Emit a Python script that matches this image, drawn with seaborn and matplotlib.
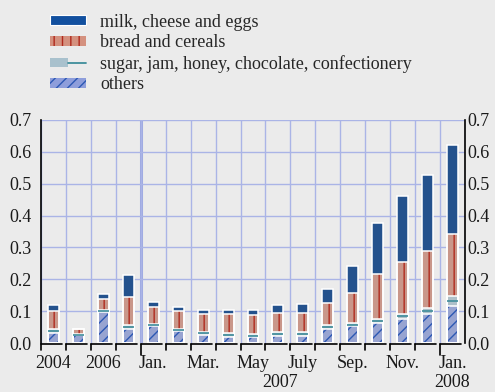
import numpy as np
import pandas as pd
import seaborn as sns
import matplotlib.pyplot as plt
from matplotlib.patches import Patch
from matplotlib.lines import Line2D
from matplotlib.legend_handler import HandlerTuple
import matplotlib.transforms as mtransforms

# values per period (contribution, percentage points)
periods = ["2004", "2005", "2006", "2007a", "Jan", "Feb", "Mar", "Apr", "May", "Jun",
           "Jul", "Aug", "Sep", "Oct", "Nov", "Dec", "Jan08"]
others = [0.030, 0.025, 0.097, 0.044, 0.052, 0.038, 0.025, 0.020, 0.018, 0.023,
          0.022, 0.044, 0.052, 0.062, 0.076, 0.092, 0.116]
sugar = [0.015, 0.003, 0.006, 0.012, 0.008, 0.006, 0.010, 0.010, 0.010, 0.011,
         0.011, 0.011, 0.010, 0.014, 0.016, 0.019, 0.030]
bread = [0.057, 0.017, 0.036, 0.088, 0.053, 0.056, 0.057, 0.062, 0.061, 0.061,
         0.061, 0.070, 0.096, 0.140, 0.162, 0.178, 0.197]
milk = [0.016, 0.000, 0.016, 0.071, 0.015, 0.013, 0.012, 0.012, 0.016, 0.023,
        0.028, 0.046, 0.083, 0.160, 0.208, 0.239, 0.280]

tick_pos = [0, 2, 4, 6, 8, 10, 12, 14, 16]
tick_labels = ["2004", "2006", "Jan.", "Mar.", "May", "July", "Sep.", "Nov.", "Jan."]
year_labels = ["2007", "2008"]
year_pos = [9.1, 16]

labels = ["milk, cheese and eggs", "bread and cereals",
          "sugar, jam, honey, chocolate, confectionery", "others"]

df = pd.DataFrame({"pos": np.arange(len(periods)), "others": others,
                   "sugar": sugar, "bread": bread, "milk": milk})
df["c1"] = df["others"]
df["c2"] = df["c1"] + df["sugar"]
df["c3"] = df["c2"] + df["bread"]
df["c4"] = df["c3"] + df["milk"]

bg = "#ebebeb"
grid_c = "#aab4e6"
milk_c = "#12509f"
bread_c, bread_h = "#d4917f", "#b02a1e"
sugar_c, sugar_h = "#a9c1cd", "#3f8d9b"
oth_c, oth_h = "#8e9edb", "#2c58b4"

sns.set_theme(style="white")
plt.rcParams["font.family"] = ["Liberation Serif", "DejaVu Serif"]
plt.rcParams["hatch.linewidth"] = 1.0

fig = plt.figure(figsize=(4.95, 3.92), dpi=100, facecolor=bg)
ax = fig.add_axes([41 / 495, 49 / 392, 424 / 495, 223 / 392])
ax.set_facecolor(bg)
ax.set_axisbelow(True)

w = 0.44
# stacked via cumulative totals, drawn from the top layer down
sns.barplot(data=df, x="pos", y="c4", color=milk_c, width=w, errorbar=None,
            edgecolor=milk_c, linewidth=0, ax=ax)
sns.barplot(data=df, x="pos", y="c3", color=bread_c, width=w, errorbar=None,
            edgecolor=bread_h, linewidth=0, hatch="||", ax=ax)
sns.barplot(data=df, x="pos", y="c2", color=sugar_c, width=w, errorbar=None,
            edgecolor=sugar_c, linewidth=0, ax=ax)
sns.barplot(data=df, x="pos", y="c1", color=oth_c, width=w, errorbar=None,
            edgecolor=oth_h, linewidth=0, hatch="///", ax=ax)
ax.hlines(df["c1"] + df["sugar"] / 2, df["pos"] - w / 2, df["pos"] + w / 2,
          color=sugar_h, lw=1.2, zorder=3)
for col in ["c4", "c3", "c2", "c1"]:
    sns.barplot(data=df, x="pos", y=col, color="white", width=w, errorbar=None,
                fill=False, linewidth=1.1, ax=ax)

n = len(periods)
ax.set_xlim(-0.5, n - 0.5)
ax.set_ylim(0, 0.7)
ax.set_yticks(np.arange(0, 0.71, 0.1))
ax.set_yticklabels([f"{v:.1f}" for v in np.arange(0, 0.71, 0.1)])
ax.set_xticks(np.arange(-0.5, n, 1), minor=True)
ax.set_xticks(tick_pos)
ax.set_xticklabels(tick_labels)
ax.set_xlabel("")
ax.set_ylabel("")
ax.grid(which="minor", axis="x", color=grid_c, lw=1.0)
ax.grid(which="major", axis="y", color=grid_c, lw=1.0)
ax.grid(which="major", axis="x", visible=False)
ax.yaxis.get_gridlines()[0].set_visible(False)
ax.axvline(3.5, color="#9eaae2", lw=2.2, zorder=0.5)
ax.tick_params(axis="both", which="both", length=0, labelsize=13, colors="#1a1a1a")
ax.tick_params(axis="y", pad=7)
ax.tick_params(axis="x", pad=9)

for s in ["top", "bottom", "right"]:
    ax.spines[s].set_visible(False)
ax.spines["left"].set_color("black")
ax.spines["left"].set_linewidth(1.2)

ax2 = ax.twinx()
ax2.set_ylim(0, 0.7)
ax2.set_yticks(np.arange(0, 0.71, 0.1))
ax2.set_yticklabels([f"{v:.1f}" for v in np.arange(0, 0.71, 0.1)])
ax2.tick_params(axis="y", length=0, labelsize=13, pad=2, colors="#1a1a1a")
for s in ["top", "bottom", "left"]:
    ax2.spines[s].set_visible(False)
ax2.spines["right"].set_color("black")
ax2.spines["right"].set_linewidth(1.2)
ax2.grid(False)

# bracket-style x axis
tr = mtransforms.blended_transform_factory(ax.transData, ax.transAxes)
for i in range(n):
    left = i - 0.5
    ax.plot([left, left + 0.85], [-0.005, -0.005], color="black", lw=1.2,
            transform=tr, clip_on=False)
    depth = -0.055 if i in (4, 16) else -0.033
    ax.plot([left, left], [-0.005, depth], color="black", lw=1.2,
            transform=tr, clip_on=False)
for p, t in zip(year_pos, year_labels):
    ax.text(p, -0.14, t, transform=tr, ha="center", va="top", fontsize=13,
            color="#1a1a1a")

handles = [
    Patch(facecolor=milk_c, edgecolor="white", linewidth=0.8),
    Patch(facecolor=bread_c, edgecolor=bread_h, hatch="||", linewidth=0),
    (Patch(facecolor=sugar_c, edgecolor=sugar_c, linewidth=0),
     Line2D([], [], color=sugar_h, lw=1.3)),
    Patch(facecolor=oth_c, edgecolor=oth_h, hatch="///", linewidth=0),
]
fig.legend(handles, labels, loc="upper left", bbox_to_anchor=(0.1, 0.965),
           frameon=False, fontsize=13, handlelength=2.0, handleheight=0.45,
           handletextpad=0.8, labelspacing=0.2, borderpad=0, borderaxespad=0,
           handler_map={tuple: HandlerTuple(ndivide=None, pad=0)})

fig.savefig("out.png", dpi=100, facecolor=bg)
